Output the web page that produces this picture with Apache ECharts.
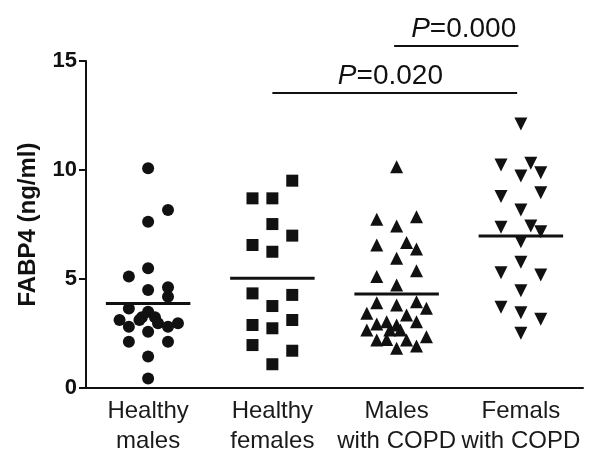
<!DOCTYPE html>
<html>
<head>
<meta charset="utf-8">
<script src="https://cdn.jsdelivr.net/npm/echarts@6/dist/echarts.min.js"></script>
<style>
  html, body { margin: 0; padding: 0; background: #fff; }
  #chart { width: 590px; height: 464px; }
</style>
</head>
<body>
<div id="chart"></div>
<script>
// groups on the x axis
const categories = ['Healthy\nmales', 'Healthy\nfemales', 'Males\nwith COPD', 'Femals\nwith COPD']

// FABP4 values (ng/ml) and horizontal jitter
const healthyMalesY = [10.08, 8.17, 7.63, 5.49, 5.11, 4.50, 4.62, 4.19, 3.65, 3.50, 3.12, 3.12, 2.81, 3.25, 3.25, 2.97, 2.81, 2.97, 2.58, 2.12, 2.12, 1.44, 0.44]
const healthyMalesJ = [0, 0.16, 0, 0, -0.155, 0, 0.16, 0.16, -0.155, 0, -0.23, -0.07, -0.155, -0.05, 0.055, 0.08, 0.16, 0.24, 0, -0.155, 0.16, 0, 0]

const healthyFemalesY = [9.51, 8.70, 8.70, 7.52, 6.99, 6.56, 6.25, 4.34, 4.27, 3.76, 2.89, 2.74, 3.12, 1.97, 1.71, 1.09]
const healthyFemalesJ = [0.16, -0.16, 0, 0, 0.16, -0.16, 0, -0.16, 0.16, 0, -0.16, 0, 0.16, -0.16, 0.16, 0]

const copdMalesY = [10.15, 7.74, 7.86, 7.43, 6.56, 6.68, 6.38, 5.95, 5.11, 5.38, 4.72, 3.91, 3.81, 3.96, 3.66, 3.43, 3.35, 3.04, 2.94, 3.04, 2.89, 2.66, 2.66, 2.66, 2.20, 2.23, 2.20, 2.35, 1.82, 1.93]
const copdMalesJ = [0, -0.16, 0.16, 0, -0.16, 0.08, 0.16, 0, -0.16, 0.16, 0, -0.16, 0, 0.16, 0.24, -0.24, 0.08, 0.16, -0.16, -0.08, 0, -0.24, -0.055, 0.03, -0.16, -0.08, 0.08, 0.24, 0, 0.16]

const copdFemalesY = [12.11, 10.23, 10.31, 9.72, 9.87, 8.78, 8.96, 8.17, 7.37, 7.43, 7.17, 6.71, 5.77, 5.29, 5.18, 4.46, 3.70, 3.45, 3.15, 2.51]
const copdFemalesJ = [0, -0.16, 0.08, 0, 0.16, -0.16, 0.16, 0, -0.16, 0.08, 0.16, 0, 0, -0.16, 0.16, 0, -0.16, 0, 0.16, 0]

// group means (horizontal bars)
const means = [3.88, 5.03, 4.31, 6.97]

// significance brackets: from group, to group, height, text x, label
const sigFrom = [1, 1.98]
const sigTo = [2.97, 2.98]
const sigLevel = [13.53, 15.69]
const sigTextX = [1.95, 2.54]
const sigText = ['0.020', '0.000']

const INK = '#111'
const FONT = 'Liberation Sans, Arial, sans-serif'

const toPoints = (ys, js, idx) => ys.map((v, k) => [idx + js[k], v])

const dotSeries = (ys, js, idx, symbol, size, rotate) => ({
  type: 'scatter',
  xAxisIndex: 1,
  data: toPoints(ys, js, idx),
  symbol: symbol,
  symbolSize: size,
  symbolRotate: rotate || 0,
  itemStyle: { color: INK, opacity: 1 },
  silent: true,
  z: 3
})

const meanSeries = means.map((m, i) => ({
  type: 'line',
  xAxisIndex: 1,
  data: [[i - 0.34, m], [i + 0.34, m]],
  symbol: 'none',
  lineStyle: { color: INK, width: 3 },
  silent: true,
  z: 4
}))

const sigSeries = sigLevel.map((lv, i) => ({
  type: 'line',
  xAxisIndex: 1,
  data: [[sigFrom[i], lv], [sigTo[i], lv]],
  symbol: 'none',
  clip: false,
  lineStyle: { color: INK, width: 2 },
  silent: true
}))

const sigLabels = {
  type: 'scatter',
  xAxisIndex: 1,
  clip: false,
  symbolSize: 0,
  silent: true,
  itemStyle: { opacity: 1, color: INK },
  data: sigLevel.map((lv, i) => ({ value: [sigTextX[i], lv], name: sigText[i] })),
  label: {
    show: true,
    position: 'top',
    distance: 3,
    color: INK,
    formatter: p => '{i|P}{n|=' + p.name + '}',
    rich: {
      i: { fontStyle: 'italic', fontSize: 28, fontFamily: FONT, color: INK },
      n: { fontSize: 28, fontFamily: FONT, color: INK }
    }
  }
}

const chart = echarts.init(document.getElementById('chart'))
chart.setOption({
  animation: false,
  backgroundColor: '#fff',
  grid: { left: 86, right: 7, top: 61, bottom: 76, containLabel: false },
  xAxis: [
    {
      type: 'category',
      data: categories,
      boundaryGap: true,
      axisLine: { lineStyle: { color: INK, width: 2 } },
      axisTick: { alignWithLabel: true, length: 8, lineStyle: { color: INK, width: 2 } },
      axisLabel: { interval: 0, margin: 8, fontSize: 24, lineHeight: 30, color: '#1a1a1a', fontFamily: FONT }
    },
    { type: 'value', min: -0.5, max: 3.5, show: false }
  ],
  yAxis: {
    type: 'value',
    min: 0,
    max: 15,
    interval: 5,
    name: 'FABP4 (ng/ml)',
    nameLocation: 'middle',
    nameGap: 46,
    nameTextStyle: { fontSize: 24, fontWeight: 'bold', color: INK, fontFamily: FONT },
    axisLine: { show: true, onZero: false, lineStyle: { color: INK, width: 2 } },
    axisTick: { show: true, length: 7, lineStyle: { color: INK, width: 2 } },
    splitLine: { show: false },
    axisLabel: { margin: 9, fontSize: 22, fontWeight: 'bold', color: INK, fontFamily: FONT }
  },
  series: [
    dotSeries(healthyMalesY, healthyMalesJ, 0, 'circle', 12),
    dotSeries(healthyFemalesY, healthyFemalesJ, 1, 'rect', 12),
    dotSeries(copdMalesY, copdMalesJ, 2, 'triangle', 13),
    dotSeries(copdFemalesY, copdFemalesJ, 3, 'triangle', 13, 180),
    ...meanSeries,
    ...sigSeries,
    sigLabels
  ]
})
</script>
</body>
</html>
